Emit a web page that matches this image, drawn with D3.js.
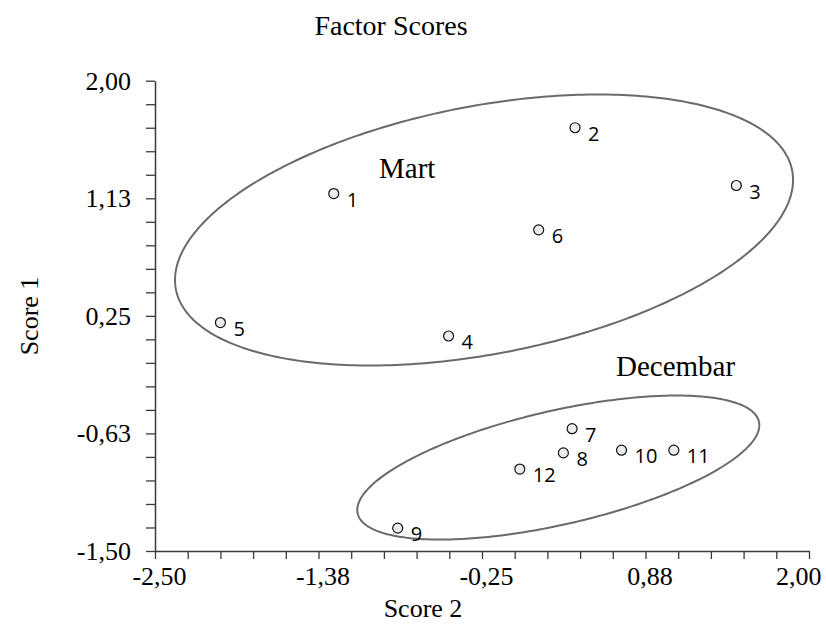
<!DOCTYPE html>
<html>
<head>
<meta charset="utf-8">
<script src="https://cdn.jsdelivr.net/npm/d3@7"></script>
<style>
  html, body { margin: 0; padding: 0; background: #fff; }
  svg { display: block; }
</style>
</head>
<body>
<svg id="chart" width="826" height="628"></svg>
<script>
// ---- data ----
const pointIds = ["1","2","3","4","5","6","7","8","9","10","11","12"];
const score2 = [-1.27, 0.39, 1.50, -0.48, -2.05, 0.14, 0.37, 0.31, -0.83, 0.71, 1.07, 0.01];
const score1 = [1.16, 1.65, 1.22, 0.10, 0.20, 0.89, -0.59, -0.77, -1.33, -0.75, -0.75, -0.89];

const groupNames = ["Mart", "Decembar"];
const groupCenterX = [-0.236, 0.275];
const groupCenterY = [0.889, -0.879];

const xMajorTicks = [-2.5, -1.375, -0.25, 0.875, 2.0];
const xTickLabels = ["-2,50", "-1,38", "-0,25", "0,88", "2,00"];
const yMajorTicks = [2.0, 1.125, 0.25, -0.625, -1.5];
const yTickLabels = ["2,00", "1,13", "0,25", "-0,63", "-1,50"];

// ---- layout ----
const svg = d3.select("#chart");
const x = d3.scaleLinear().domain([-2.5, 2.0]).range([155, 809]);
const y = d3.scaleLinear().domain([-1.5, 2.0]).range([551, 80.7]);

const serif = "'Liberation Serif', 'Times New Roman', serif";
const sans = "'Open Sans', 'Noto Sans', sans-serif";
const axisColor = "#3a3a3a";

const xMinor = d3.range(0, 21).map(i => -2.5 + i * 0.225);
const yMinor = d3.range(0, 21).map(i => -1.5 + i * 0.175);

function labelFor(ticks, labels) {
  return v => {
    const i = ticks.findIndex(t => Math.abs(t - v) < 1e-6);
    return i >= 0 ? labels[i] : "";
  };
}

// x axis
const gx = svg.append("g")
  .attr("transform", `translate(0,${y(-1.5)})`)
  .call(d3.axisBottom(x).tickValues(xMinor).tickSize(8).tickSizeOuter(0)
    .tickFormat(labelFor(xMajorTicks, xTickLabels)));
// y axis
const gy = svg.append("g")
  .attr("transform", `translate(${x(-2.5)},0)`)
  .call(d3.axisLeft(y).tickValues(yMinor).tickSize(9).tickSizeOuter(0)
    .tickFormat(labelFor(yMajorTicks, yTickLabels)));

[gx, gy].forEach(g => {
  g.select(".domain").attr("stroke", axisColor).attr("stroke-width", 1.5);
  g.selectAll(".tick line").attr("stroke", axisColor).attr("stroke-width", 1.3);
  g.selectAll(".tick text").attr("fill", "#000")
    .style("font-family", serif).style("font-size", "26px");
});
gx.selectAll(".tick text").attr("dy", "0.95em").attr("y", 9).attr("dx", 4);
gy.selectAll(".tick text").attr("x", -24).attr("dy", "0.32em");
// last x label is kept inside the page
gx.selectAll(".tick text").filter(d => Math.abs(d - 2.0) < 1e-6)
  .attr("text-anchor", "end").attr("dx", 12);

// ellipses (pixel semi-axes and rotation as drawing constants)
const ellipseShape = [
  { a: 313.8, b: 124.0, rot: -10.92 },
  { a: 205.8, b: 56.9, rot: -12.9 }
];
const line = d3.line().curve(d3.curveLinearClosed);
groupNames.forEach((name, i) => {
  const cx = x(groupCenterX[i]), cy = y(groupCenterY[i]);
  const { a, b, rot } = ellipseShape[i];
  const th = rot * Math.PI / 180;
  const pts = d3.range(0, 360).map(k => {
    const t = k * Math.PI / 180;
    return [cx + a * Math.cos(t) * Math.cos(th) - b * Math.sin(t) * Math.sin(th),
            cy + a * Math.cos(t) * Math.sin(th) + b * Math.sin(t) * Math.cos(th)];
  });
  svg.append("path").attr("d", line(pts))
    .attr("fill", "none").attr("stroke", "#6a6a6a").attr("stroke-width", 2);
});

// group labels
svg.append("text").attr("x", 379).attr("y", 178)
  .style("font-family", serif).style("font-size", "29px").text(groupNames[0]);
svg.append("text").attr("x", 616).attr("y", 376)
  .style("font-family", serif).style("font-size", "29px").text(groupNames[1]);

// points
const pts = svg.append("g");
pointIds.forEach((id, i) => {
  pts.append("circle").attr("cx", x(score2[i])).attr("cy", y(score1[i])).attr("r", 5)
    .attr("fill", "#ececec").attr("stroke", "#111").attr("stroke-width", 1.2);
  pts.append("text").attr("x", x(score2[i]) + 13).attr("y", y(score1[i]) + 13)
    .style("font-family", sans).style("font-size", "20px").attr("fill", "#000").text(id);
});

// titles
svg.append("text").attr("x", 391).attr("y", 35).attr("text-anchor", "middle")
  .style("font-family", serif).style("font-size", "28px").text("Factor Scores");
svg.append("text").attr("x", 423).attr("y", 617).attr("text-anchor", "middle")
  .style("font-family", serif).style("font-size", "26px").text("Score 2");
svg.append("text").attr("transform", "translate(38,316) rotate(-90)").attr("text-anchor", "middle")
  .style("font-family", serif).style("font-size", "26px").text("Score 1");
</script>
</body>
</html>
